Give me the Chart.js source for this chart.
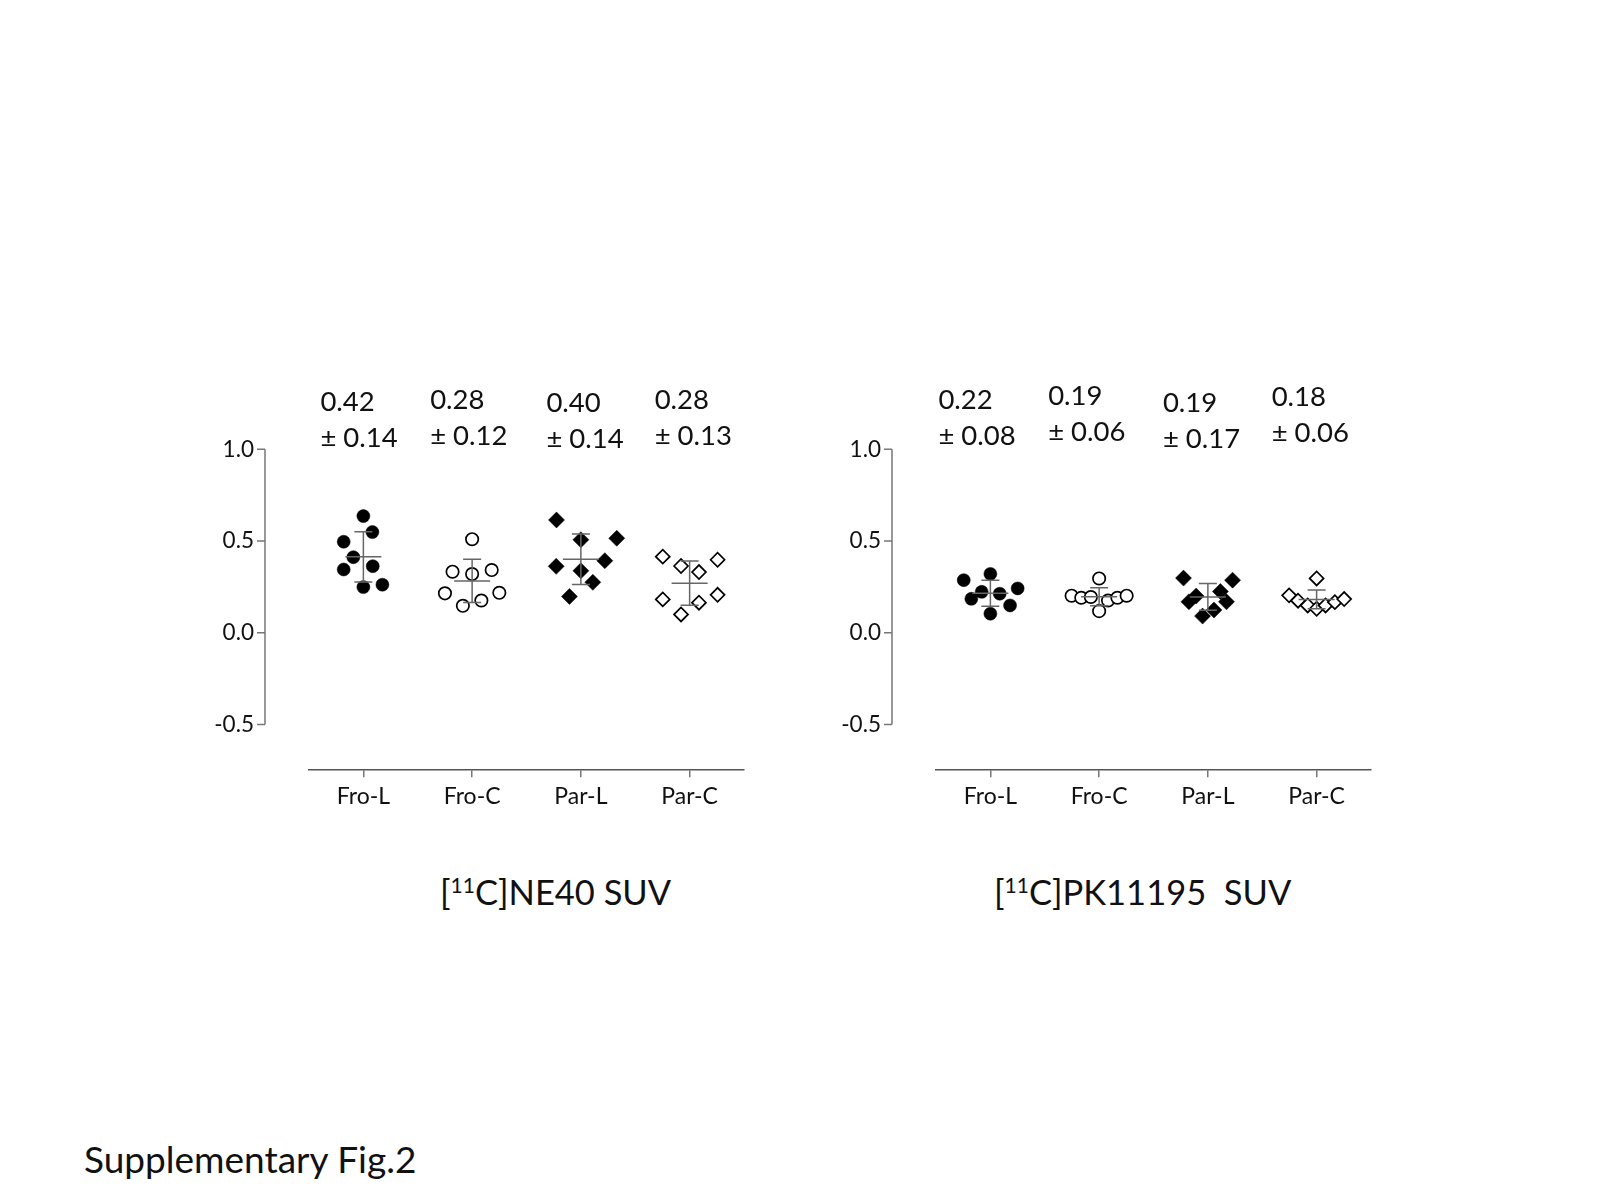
<!DOCTYPE html>
<html>
<head>
<meta charset="utf-8">
<script src="https://cdn.jsdelivr.net/npm/chart.js@4.4.1/dist/chart.umd.min.js"></script>
<style>
  body { margin: 0; width: 1600px; height: 1200px; background: #fff; position: relative; font-family: Lato, sans-serif; color: #111; }
  .box { position: absolute; top: 370px; width: 620px; height: 470px; }
  .title { position: absolute; font-size: 34.5px; line-height: 34px; white-space: pre; }
  .title .sup { font-size: 21px; position: relative; top: -12px; }
  #footer { position: absolute; left: 84px; top: 1140px; font-size: 37px; line-height: 37px; }
</style>
</head>
<body>
<div class="box" style="left:150px"><canvas id="ne40"></canvas></div>
<div class="box" style="left:777px"><canvas id="pk"></canvas></div>
<div class="title" style="left:440px; top:875px">[<span class="sup">11</span>C]NE40 SUV</div>
<div class="title" style="left:994px; top:875px">[<span class="sup">11</span>C]PK11195  SUV</div>
<div id="footer">Supplementary Fig.2</div>
<script>
var categories = ["Fro-L", "Fro-C", "Par-L", "Par-C"];
var yTicks = [-0.5, 0, 0.5, 1.0];

// [11C]NE40 SUV, one value per subject, jitter in category units
var ne40FroL = [0.636, 0.549, 0.496, 0.412, 0.345, 0.363, 0.249, 0.262];
var ne40FroLx = [0, 0.083, -0.181, -0.092, -0.181, 0.086, 0, 0.175];
var ne40FroC = [0.51, 0.333, 0.32, 0.342, 0.215, 0.218, 0.147, 0.176];
var ne40FroCx = [0, -0.18, 0, 0.18, -0.25, 0.25, -0.085, 0.085];
var ne40ParL = [0.615, 0.507, 0.515, 0.362, 0.338, 0.393, 0.275, 0.198];
var ne40ParLx = [-0.224, 0, 0.33, -0.227, 0, 0.22, 0.11, -0.105];
var ne40ParC = [0.415, 0.364, 0.331, 0.398, 0.182, 0.164, 0.207, 0.10];
var ne40ParCx = [-0.247, -0.079, 0.086, 0.257, -0.247, 0.086, 0.257, -0.079];
var ne40Means = ["0.42", "0.28", "0.40", "0.28"];
var ne40Sds = ["0.14", "0.12", "0.14", "0.13"];

// [11C]PK11195 SUV
var pkFroL = [0.321, 0.287, 0.223, 0.213, 0.242, 0.185, 0.149, 0.104];
var pkFroLx = [0, -0.245, -0.08, 0.086, 0.251, -0.175, 0.181, 0];
var pkFroC = [0.296, 0.202, 0.191, 0.195, 0.118, 0.176, 0.191, 0.202];
var pkFroCx = [0, -0.253, -0.164, -0.076, 0, 0.082, 0.168, 0.253];
var pkParL = [0.298, 0.287, 0.2, 0.169, 0.225, 0.169, 0.124, 0.091];
var pkParLx = [-0.224, 0.227, -0.108, -0.174, 0.115, 0.171, 0.056, -0.049];
var pkParC = [0.296, 0.204, 0.175, 0.149, 0.131, 0.149, 0.167, 0.184];
var pkParCx = [0, -0.253, -0.171, -0.082, 0, 0.082, 0.168, 0.253];
var pkMeans = ["0.22", "0.19", "0.19", "0.18"];
var pkSds = ["0.08", "0.06", "0.17", "0.06"];

var markers = [
  { pointStyle: "circle", pointRadius: 6.5, pointBackgroundColor: "#000", pointBorderColor: "#000", pointBorderWidth: 0.5 },
  { pointStyle: "circle", pointRadius: 6.2, pointBackgroundColor: "#fff", pointBorderColor: "#000", pointBorderWidth: 1.7 },
  { pointStyle: "rectRot", pointRadius: 8, pointBackgroundColor: "#000", pointBorderColor: "#000", pointBorderWidth: 0.5 },
  { pointStyle: "rectRot", pointRadius: 7, pointBackgroundColor: "#fff", pointBorderColor: "#000", pointBorderWidth: 1.7 }
];

function meanSd(arr) {
  var m = arr.reduce(function (a, b) { return a + b; }, 0) / arr.length;
  var v = arr.reduce(function (a, b) { return a + (b - m) * (b - m); }, 0) / (arr.length - 1);
  return [m, Math.sqrt(v)];
}

var decor = {
  id: "decor",
  afterDatasetsDraw: function (chart) {
    var ctx = chart.ctx, xs = chart.scales.x, ys = chart.scales.y;
    ctx.save();
    ctx.strokeStyle = "#666";
    ctx.lineWidth = 1.5;
    chart.data.datasets.forEach(function (ds, i) {
      var ms = meanSd(ds.data.map(function (p) { return p.y; }));
      var cx = xs.getPixelForValue(i + 1);
      var yT = ys.getPixelForValue(ms[0] + ms[1]);
      var yM = ys.getPixelForValue(ms[0]);
      var yB = ys.getPixelForValue(ms[0] - ms[1]);
      ctx.beginPath();
      ctx.moveTo(cx, yT); ctx.lineTo(cx, yB);
      ctx.moveTo(cx - 9, yT); ctx.lineTo(cx + 9, yT);
      ctx.moveTo(cx - 9, yB); ctx.lineTo(cx + 9, yB);
      ctx.moveTo(cx - 18, yM); ctx.lineTo(cx + 18, yM);
      ctx.stroke();
    });
    ctx.restore();
  },
  afterDraw: function (chart, args, opts) {
    var ctx = chart.ctx, xs = chart.scales.x, ys = chart.scales.y;
    var ax = chart.chartArea.left - 44;
    ctx.save();
    // free-standing y axis
    ctx.strokeStyle = "#777";
    ctx.lineWidth = 1.5;
    ctx.beginPath();
    ctx.moveTo(ax, ys.getPixelForValue(yTicks[yTicks.length - 1]));
    ctx.lineTo(ax, ys.getPixelForValue(yTicks[0]));
    yTicks.forEach(function (t) {
      var py = ys.getPixelForValue(t);
      ctx.moveTo(ax - 8, py); ctx.lineTo(ax, py);
    });
    ctx.stroke();
    // mean +- sd labels
    ctx.fillStyle = "#111";
    ctx.font = "27.5px Lato";
    ctx.textAlign = "left";
    ctx.textBaseline = "alphabetic";
    opts.means.forEach(function (m, i) {
      var tx = xs.getPixelForValue(i + 1) + opts.dx[i];
      var ty = chart.chartArea.top + opts.dy[i];
      ctx.fillText(m, tx, ty);
      ctx.fillText("\u00B1 " + opts.sds[i], tx, ty + 36);
    });
    ctx.restore();
  }
};

function makeChart(id, groups, jitters, means, sds, dx, dy) {
  var datasets = groups.map(function (vals, g) {
    var ds = {
      data: vals.map(function (v, k) { return { x: g + 1 + jitters[g][k], y: v }; }),
      showLine: false
    };
    return Object.assign(ds, markers[g]);
  });
  return new Chart(document.getElementById(id), {
    type: "scatter",
    data: { datasets: datasets },
    options: {
      responsive: true,
      maintainAspectRatio: false,
      animation: false,
      events: [],
      layout: { padding: { top: 79.3, right: 26, bottom: 0, left: 0 } },
      plugins: {
        legend: { display: false },
        tooltip: { enabled: false },
        decor: { means: means, sds: sds, dx: dx, dy: dy }
      },
      scales: {
        x: {
          type: "linear",
          min: 0.5,
          max: 4.5,
          afterBuildTicks: function (s) { s.ticks = categories.map(function (c, i) { return { value: i + 1 }; }); },
          afterFit: function (s) { s.height = 70.7; },
          ticks: {
            autoSkip: false, maxRotation: 0, padding: 5, color: "#111",
            font: { family: "Lato", size: 23 },
            callback: function (v, i) { return categories[i]; }
          },
          grid: { display: true, drawOnChartArea: false, drawTicks: true, tickLength: 8, color: "#777", lineWidth: 1.5 },
          border: { display: true, color: "#555", width: 1.5 }
        },
        y: {
          type: "linear",
          min: -0.744,
          max: 1.0,
          afterBuildTicks: function (s) { s.ticks = yTicks.map(function (v) { return { value: v }; }); },
          afterFit: function (s) { s.width = 159; },
          ticks: {
            padding: 55, color: "#111",
            font: { family: "Lato", size: 22.5 },
            callback: function (v) { return v.toFixed(1); }
          },
          grid: { display: false, drawTicks: false },
          border: { display: false }
        }
      }
    },
    plugins: [decor]
  });
}

makeChart("ne40",
  [ne40FroL, ne40FroC, ne40ParL, ne40ParC],
  [ne40FroLx, ne40FroCx, ne40ParLx, ne40ParCx],
  ne40Means, ne40Sds,
  [-43, -42, -34.5, -35],
  [-38.6, -40, -37, -40]);

makeChart("pk",
  [pkFroL, pkFroC, pkParL, pkParC],
  [pkFroLx, pkFroCx, pkParLx, pkParCx],
  pkMeans, pkSds,
  [-52, -51, -45, -45],
  [-40, -44.3, -37.6, -43.3]);
</script>
</body>
</html>
